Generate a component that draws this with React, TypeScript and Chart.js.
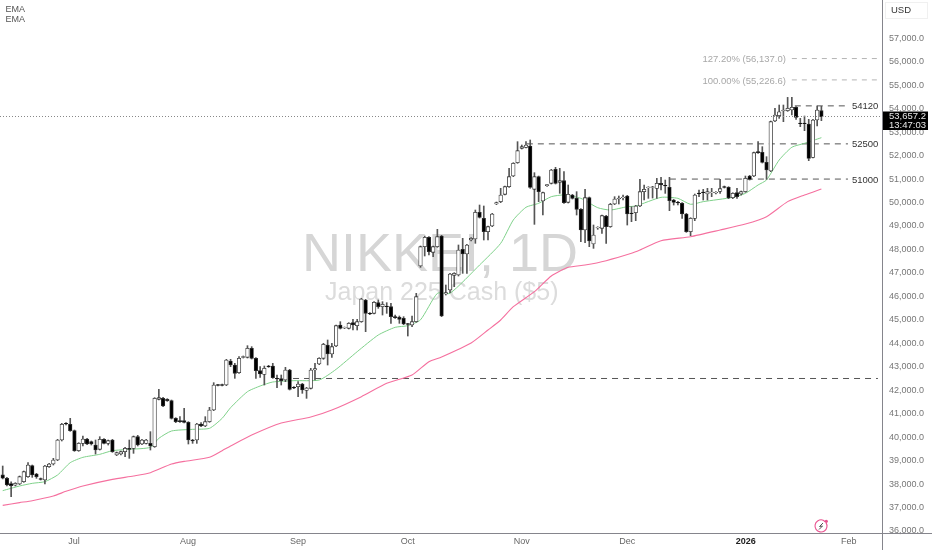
import React, { useEffect, useRef } from "react";
import { Chart, registerables } from "chart.js";

Chart.register(...registerables);

const opens = [
  38390,38250,38020,37950,38003,38102,38316,38784,38429,38230,
  38174,38742,38856,39026,39878,40589,40546,40276,39424,39736,
  39921,39807,39665,39481,39907,39736,39878,39239,39282,39381,
  39523,39523,40020,39708,39736,39736,39594,41612,41654,41612,
  41555,40802,40702,40702,40631,39878,39878,40560,40475,40660,
  41157,42237,42237,42223,43246,43075,42748,43402,43402,43786,
  43359,42834,42677,43033,43033,42507,42493,42436,42862,42123,
  42152,42265,41995,42081,42862,43118,43359,43928,43544,43885,
  44780,44652,44638,44880,44752,44922,45846,45277,45277,45732,
  45561,45590,45561,45135,45107,45064,44837,44780,44922,47295,
  48118,48516,47877,48118,48573,46101,46272,46897,46911,48005,
  47806,48403,48445,49582,49326,48758,49000,49937,50036,50349,
  50676,51130,51699,52310,52352,52409,50562,51102,50065,50718,
  50818,51415,50861,50931,50008,50321,50179,49710,48829,50207,
  48232,48914,48900,49426,48971,49937,50150,50207,50277,49553,
  49567,49851,50462,50632,50640,50604,50817,50732,50647,50107,
  50007,49965,49510,48757,49325,50405,50447,50362,50419,50405,
  50476,50675,50647,50206,50419,50362,50462,51130,51130,52167,
  52138,51712,51343,53474,53701,53900,53914,53943,54056,53388,
  53388,53346,51925,53516,53914,
];
const closes = [
  38250,37960,37930,38030,38316,38529,38813,38387,38316,38202,
  38770,38856,39026,39878,40546,40560,40276,39424,39736,39921,
  39708,39708,39452,39907,39736,39850,39381,39339,39381,39523,
  39480,40020,39665,39878,39878,39623,41654,41683,41327,41555,
  40802,40660,40660,40631,39878,39836,40560,40475,40660,41157,
  42222,42209,42209,43288,43075,42720,43359,43430,43786,43359,
  42834,42692,42933,43004,42535,42478,42407,42862,42038,42095,
  42265,42010,42095,42862,42919,43359,43956,43544,43857,44752,
  44638,44681,44851,44780,44922,45888,45277,45249,45746,45561,
  45661,45561,45135,45092,45022,44823,44808,44922,45988,48118,
  48516,47905,48118,48545,45163,46158,46954,46982,47976,47806,
  48190,48474,49582,49369,48758,48971,49511,49994,50321,50676,
  51102,51670,52210,52381,52452,50647,51102,50463,50420,50761,
  51386,50818,50931,49994,50349,50179,49710,48829,50207,48360,
  48616,48943,49440,48971,49923,50150,50193,50235,49510,49524,
  49851,50462,50561,50661,50665,50817,50746,50703,50078,50007,
  49979,49510,48757,49325,50320,50377,50419,50462,50447,50433,
  50590,50647,50192,50391,50249,50462,51030,50987,52124,52124,
  51712,51385,53445,53729,53871,53943,54014,54056,53630,53360,
  53360,51883,53516,53943,53657,
];
const highs = [
  38770,38290,38100,38060,38344,38557,38912,38813,38458,38259,
  38799,38884,39097,39907,40589,40617,40802,40305,39765,40049,
  39950,39836,39878,40020,39935,39878,39907,39367,39410,39566,
  39878,40049,40077,39907,39907,40234,41683,42038,41697,41640,
  41583,40830,40873,41228,40660,39907,40589,40617,40873,41271,
  42322,42251,42266,43317,43317,43146,43430,43459,43899,43857,
  43388,43004,43033,43061,43146,42649,42649,42976,42890,42152,
  42365,42294,42123,42933,43146,43388,43999,44141,43999,44780,
  44922,44695,44880,45022,45022,45917,45874,45306,45775,45846,
  45775,45732,45703,45206,45164,45135,44851,45164,46130,48147,
  48573,48545,48147,48857,48602,46485,46982,47011,48190,48474,
  48218,48502,49681,49894,49852,49000,49539,50022,50605,50704,
  51457,51699,52594,52452,52594,52665,51272,51130,50449,50775,
  51415,51500,51457,51315,50747,50349,50463,49738,50562,50235,
  49042,48971,49468,49454,49965,50250,50278,50321,50305,49823,
  49880,50988,50746,50675,50690,51030,51073,50959,51073,50135,
  50050,49993,49538,49354,50362,50533,50561,50604,50604,50462,
  50988,50703,50675,50419,50604,50490,51130,51158,52152,52593,
  52380,51954,53474,54014,54156,54156,54482,54482,54085,53587,
  53687,53545,53545,54113,54100,
];
const lows = [
  38220,37920,37460,37920,37975,38074,38287,38287,38245,38174,
  38003,38713,38813,38997,39836,40518,40248,39395,39395,39623,
  39680,39665,39282,39452,39708,39665,39353,39211,39239,39168,
  39097,39310,39623,39680,39708,39452,39566,41583,41299,41526,
  40773,40617,40631,40603,39708,39736,39736,40447,40447,40631,
  41129,42180,42180,42194,43004,42507,42720,43373,43373,43331,
  42507,42550,42223,42976,42507,42109,42223,42365,42010,42067,
  41725,41868,41654,42052,42436,43089,43317,43075,43402,43857,
  44610,44624,44610,44567,44567,44894,44496,45220,45249,45490,
  45206,45277,44851,45064,44851,44794,44311,44709,44894,47238,
  47721,47763,47692,48090,45135,46058,46158,46414,46868,46982,
  46982,48360,48261,49340,48403,48403,48971,49909,49994,50321,
  50647,51102,51670,52281,52324,50605,49070,50036,49468,50690,
  50789,50789,50392,49965,49980,50150,49468,48332,48289,48118,
  48047,48857,48687,48261,48943,49909,49937,50108,49041,49183,
  49226,49823,50107,50178,50190,50178,50533,50391,49652,49893,
  49893,49325,48729,48587,49226,50249,50107,50107,50249,50362,
  50391,50618,50164,50164,50178,50320,50433,50959,51101,52096,
  51684,50987,51314,53445,53587,53445,53886,53729,53545,53232,
  53062,51783,51897,53261,53488,
];

const emaFastIdx = [0,4,7,10,13,16,19,23,26,30,35,37,40,45,49,52,54,58,61,64,69,75,79,84,89,93,96,99,103,106,113,118,121,124,127,130,133,137,141,144,148,150,156,160,163,166,173,176,179,181,184,187,190,194];
const emaFast = [37720,37918,38032,38103,38387,38912,39140,39268,39424,39481,39566,39950,40262,40333,40376,40802,41257,41939,42180,42351,42408,42436,42891,43643,44354,44681,44752,45000,46130,46130,47337,48260,49257,49797,49967,50250,50320,50178,49780,49681,49823,49851,50220,50178,49924,50038,50220,50391,50748,50961,51813,52355,52523,52764];
const emaSlowIdx = [0,4,7,12,15,19,26,31,35,40,43,49,52,54,59,66,73,78,85,91,97,101,104,111,115,118,121,126,130,134,138,143,149,151,156,163,170,176,181,186,190,194];
const emaSlow = [37094,37210,37293,37491,37690,37918,38202,38344,38486,38856,38969,39140,39424,39623,40090,40603,40859,41157,41726,42294,42649,43217,43416,44013,44566,44993,45561,46201,46868,47238,47337,47522,47834,47976,48373,48544,48828,49084,49397,50038,50320,50576];

const levelValues = [54120, 52500, 51000, 42500];
const levelFrom = [187.7, 124.2, 158.1, 68.8];
const levelTo = [200.3, 200.3, 200.3, 207.4];
const levelTexts = ["54120", "52500", "51000", ""];
const fibValues = [56137, 55226.6];
const fibTexts = ["127.20% (56,137.0)", "100.00% (55,226.6)"];
const fibFrom = 187;
const fibTo = 207.9;
const lastPrice = 53657.2;
const countdown = "13:47:03";

const yTicks = [36000,37000,38000,39000,40000,41000,42000,43000,44000,45000,46000,47000,48000,49000,50000,51000,52000,53000,54000,55000,56000,57000];
const monthIdx = [16.9, 43.9, 70, 96, 123, 148, 176.1, 200.5];
const monthLabels = ["Jul", "Aug", "Sep", "Oct", "Nov", "Dec", "2026", "Feb"];

const FONT = '"Liberation Sans", Arial, sans-serif';
const fmt = (v: number) => v.toLocaleString("en-US", { minimumFractionDigits: 1, maximumFractionDigits: 1 });

const zeroPad = (s: any) => {
  s.paddingTop = 0;
  s.paddingBottom = 0;
  s.paddingLeft = 0;
  s.paddingRight = 0;
};

const watermark = {
  id: "watermark",
  beforeDatasetsDraw(chart: any) {
    const c = chart.ctx;
    c.save();
    c.textAlign = "left";
    c.textBaseline = "alphabetic";
    c.fillStyle = "#d6d6d6";
    c.font = `54px ${FONT}`;
    c.fillText("NIKKEI, 1D", 302, 271);
    c.fillStyle = "#dcdcdc";
    c.font = `25px ${FONT}`;
    c.fillText("Japan 225 Cash ($5)", 325, 300);
    c.restore();
  },
};

const overlay = {
  id: "overlay",
  afterDraw(chart: any) {
    const c = chart.ctx;
    const x = chart.scales.x;
    const y = chart.scales.y;
    c.save();
    // axis frame
    c.strokeStyle = "#85858c";
    c.lineWidth = 1;
    c.beginPath();
    c.moveTo(882.5, 0);
    c.lineTo(882.5, 550);
    c.moveTo(0, 533.5);
    c.lineTo(932, 533.5);
    c.stroke();

    // last price line
    c.strokeStyle = "#888";
    c.setLineDash([1, 2]);
    const py = Math.floor(y.getPixelForValue(lastPrice)) + 0.5;
    c.beginPath();
    c.moveTo(0, py);
    c.lineTo(883, py);
    c.stroke();
    c.setLineDash([]);

    c.textBaseline = "middle";
    // level labels
    c.fillStyle = "#333";
    c.font = `9.5px ${FONT}`;
    c.textAlign = "left";
    levelTexts.forEach((t, i) => {
      if (t) c.fillText(t, x.getPixelForValue(levelTo[i]) + 4, y.getPixelForValue(levelValues[i]) + 1);
    });
    // fib labels
    c.fillStyle = "#a8a8a8";
    c.textAlign = "right";
    fibTexts.forEach((t, i) => {
      c.fillText(t, x.getPixelForValue(fibFrom) - 6, y.getPixelForValue(fibValues[i]) + 1);
    });

    // legend
    c.fillStyle = "#555";
    c.textAlign = "left";
    c.font = `9px ${FONT}`;
    c.fillText("EMA", 5.5, 10);
    c.fillText("EMA", 5.5, 20);

    // currency box
    c.strokeStyle = "#f0f0f0";
    c.strokeRect(885.5, 2.5, 42, 16);
    c.fillStyle = "#333";
    c.font = `9.5px ${FONT}`;
    c.fillText("USD", 891, 10);

    // price tag
    c.fillStyle = "#000";
    c.fillRect(883, py - 5, 45, 18.5);
    c.fillStyle = "#e8e8e8";
    c.font = `9.5px ${FONT}`;
    c.fillText(fmt(lastPrice), 889, py - 0.5);
    c.fillText(countdown, 889, py + 8.5);

    // alert icon
    c.strokeStyle = "#e8538f";
    c.lineWidth = 1.1;
    c.beginPath();
    c.arc(821, 526, 6, -0.6, Math.PI * 1.75);
    c.stroke();
    c.fillStyle = "#e8538f";
    c.beginPath();
    c.arc(826.3, 521.3, 1.6, 0, Math.PI * 2);
    c.fill();
    c.strokeStyle = "#555";
    c.lineWidth = 1;
    c.beginPath();
    c.moveTo(823, 523);
    c.lineTo(819.5, 526.5);
    c.lineTo(822.5, 526);
    c.lineTo(819, 529.5);
    c.stroke();
    c.restore();
  },
};

export default function App() {
  const ref = useRef<HTMLCanvasElement | null>(null);
  useEffect(() => {
    if (!ref.current) return;
    const idx = opens.map((_, i) => i);
    const up = (i: number) => closes[i] >= opens[i];
    const dashed = levelValues.map((v, i) => ({
      type: "line" as const,
      order: 5,
      data: [{ x: levelFrom[i], y: v }, { x: levelTo[i], y: v }],
      borderColor: "#555",
      borderWidth: 1,
      borderDash: [6, 5],
      pointRadius: 0,
    }));
    const fibs = fibValues.map((v) => ({
      type: "line" as const,
      order: 5,
      data: [{ x: fibFrom, y: v }, { x: fibTo, y: v }],
      borderColor: "#b5b5b5",
      borderWidth: 1,
      borderDash: [5, 5],
      pointRadius: 0,
    }));
    const chart = new Chart(ref.current, {
      type: "bar",
      data: {
        datasets: [
          {
            type: "bar",
            order: 1,
            data: idx.map((i) => ({ x: i, y: [opens[i], closes[i]] })),
            backgroundColor: idx.map((i) => (up(i) ? "#ffffff" : "#000000")),
            borderColor: "#333",
            borderWidth: 0.8,
            borderSkipped: false,
            barThickness: 3.6,
            grouped: false,
          },
          {
            type: "bar",
            order: 2,
            data: idx.map((i) => ({ x: i, y: [lows[i], highs[i]] })),
            backgroundColor: "#555",
            borderWidth: 0,
            barThickness: 1,
            grouped: false,
          },
          {
            type: "line",
            order: 3,
            data: emaFastIdx.map((x, i) => ({ x, y: emaFast[i] })),
            borderColor: "#7fd18a",
            borderWidth: 1,
            pointRadius: 0,
            tension: 0.2,
          },
          {
            type: "line",
            order: 3,
            data: emaSlowIdx.map((x, i) => ({ x, y: emaSlow[i] })),
            borderColor: "#f5709f",
            borderWidth: 1.1,
            pointRadius: 0,
            tension: 0.2,
          },
          ...dashed,
          ...fibs,
        ] as any,
      },
      options: {
        responsive: false,
        animation: false,
        layout: { padding: 0 },
        plugins: { legend: { display: false }, tooltip: { enabled: false } },
        scales: {
          x: {
            type: "linear",
            offset: false,
            min: -0.64,
            max: 208.6,
            grid: { display: false, drawTicks: false },
            border: { display: false },
            afterFit: (s: any) => { s.height = 17; zeroPad(s); },
            afterBuildTicks: (s: any) => { s.ticks = monthIdx.map((value) => ({ value })); },
            ticks: {
              autoSkip: false,
              maxRotation: 0,
              padding: 3,
              font: (ctx: any) => ({
                family: FONT,
                size: 9,
                weight: ctx.tick && ctx.tick.value === monthIdx[6] ? "bold" : "normal",
              }),
              color: (ctx: any) => (ctx.tick && ctx.tick.value === monthIdx[6] ? "#222" : "#666"),
              callback: (v: any) => monthLabels[monthIdx.indexOf(v)] ?? "",
            },
          },
          y: {
            type: "linear",
            position: "right",
            min: 35915,
            max: 58632,
            grid: { display: false, drawTicks: false },
            border: { display: false },
            afterFit: (s: any) => { s.width = 49; zeroPad(s); },
            afterBuildTicks: (s: any) => { s.ticks = yTicks.map((value) => ({ value })); },
            ticks: {
              autoSkip: false,
              padding: 6,
              color: "#777",
              font: { family: FONT, size: 9 },
              callback: (v: any) => fmt(Number(v)),
            },
          },
        },
      } as any,
      plugins: [watermark, overlay],
    });
    return () => chart.destroy();
  }, []);
  return (
    <div style={{ position: "fixed", left: 0, top: 0, width: 932, height: 550, background: "#fff" }}>
      <canvas ref={ref} width={932} height={550} style={{ display: "block" }} />
    </div>
  );
}
